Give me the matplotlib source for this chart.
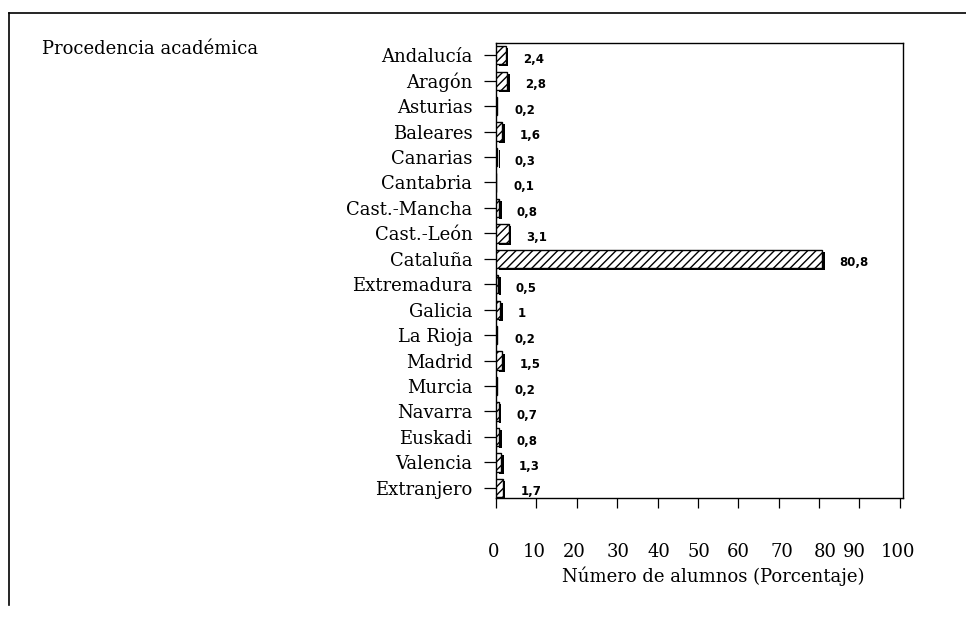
import matplotlib
matplotlib.use("Agg")
import matplotlib.pyplot as plt
import matplotlib.patheffects as pe
import matplotlib.transforms as mtransforms
from matplotlib.lines import Line2D

regions = ["Andalucía", "Aragón", "Asturias", "Baleares", "Canarias", "Cantabria",
           "Cast.-Mancha", "Cast.-León", "Cataluña", "Extremadura", "Galicia",
           "La Rioja", "Madrid", "Murcia", "Navarra", "Euskadi", "Valencia", "Extranjero"]
values = [2.4, 2.8, 0.2, 1.6, 0.3, 0.1, 0.8, 3.1, 80.8, 0.5, 1.0, 0.2, 1.5, 0.2, 0.7, 0.8, 1.3, 1.7]
value_labels = ["2,4", "2,8", "0,2", "1,6", "0,3", "0,1", "0,8", "3,1", "80,8", "0,5", "1",
                "0,2", "1,5", "0,2", "0,7", "0,8", "1,3", "1,7"]
xticks = [0, 10, 20, 30, 40, 50, 60, 70, 80, 90, 100]
xtick_shift_px = [-2, -2, -3, 1, 1, 1, 0, 3, 6, -5, -2]

serif = ["DejaVu Serif"]
plt.rcParams["font.family"] = serif
FS = 13

W, H = 966, 617
fig = plt.figure(figsize=(W / 100, H / 100), dpi=100)
L, R, T, B = 496, 903, 43, 498
ax = fig.add_axes([L / W, 1 - B / H, (R - L) / W, (B - T) / H])

ypos = list(range(len(regions)))
bars = ax.barh(ypos, values, height=0.72, color="white", edgecolor="black",
               hatch="////", linewidth=1.0, zorder=3)
for b in bars:
    b.set_path_effects([pe.SimplePatchShadow(offset=(1.8, -1.5), shadow_rgbFace="black", alpha=1),
                        pe.Normal()])

for y, v, lab in zip(ypos, values, value_labels):
    ax.annotate(lab, xy=(v, y), xytext=(12.5, -3), textcoords="offset points",
                va="center", ha="left", fontsize=8.5, fontweight="bold",
                family=["DejaVu Sans"])

ax.set_ylim(17.4, -0.48)
ax.set_xlim(0, 100.8)
ax.set_yticks(ypos)
ax.set_yticklabels(regions, fontsize=FS)
ax.set_xticks(xticks)
ax.set_xticklabels([])
ax.tick_params(axis="y", direction="out", length=9, width=0.9, pad=8)
ax.tick_params(axis="x", direction="out", length=7, width=0.9)

# x tick labels (slightly irregular spacing as in the original print)
for t, dx in zip(xticks, xtick_shift_px):
    tr = ax.get_xaxis_transform() + mtransforms.ScaledTranslation(dx / 100, 0, fig.dpi_scale_trans)
    ax.text(t, -(552 - B) / (B - T), str(t), transform=tr, ha="center", va="center",
            fontsize=FS)

ax.set_xlabel("Número de alumnos (Porcentaje)", fontsize=FS)
ax.xaxis.set_label_coords((713 - L) / (R - L), -(566 - B) / (B - T))
for s in ax.spines.values():
    s.set_linewidth(1.0)

fig.text(42 / W, 1 - 54 / H, "Procedencia académica", fontsize=FS, va="baseline", ha="left")

# outer frame
fig.add_artist(Line2D([9 / W, 1.0], [1 - 13 / H, 1 - 13 / H], color="black", lw=1.2))
fig.add_artist(Line2D([9 / W, 9 / W], [1 - 13 / H, 1 - 605 / H], color="black", lw=1.2))

fig.savefig("out.png", dpi=100)
